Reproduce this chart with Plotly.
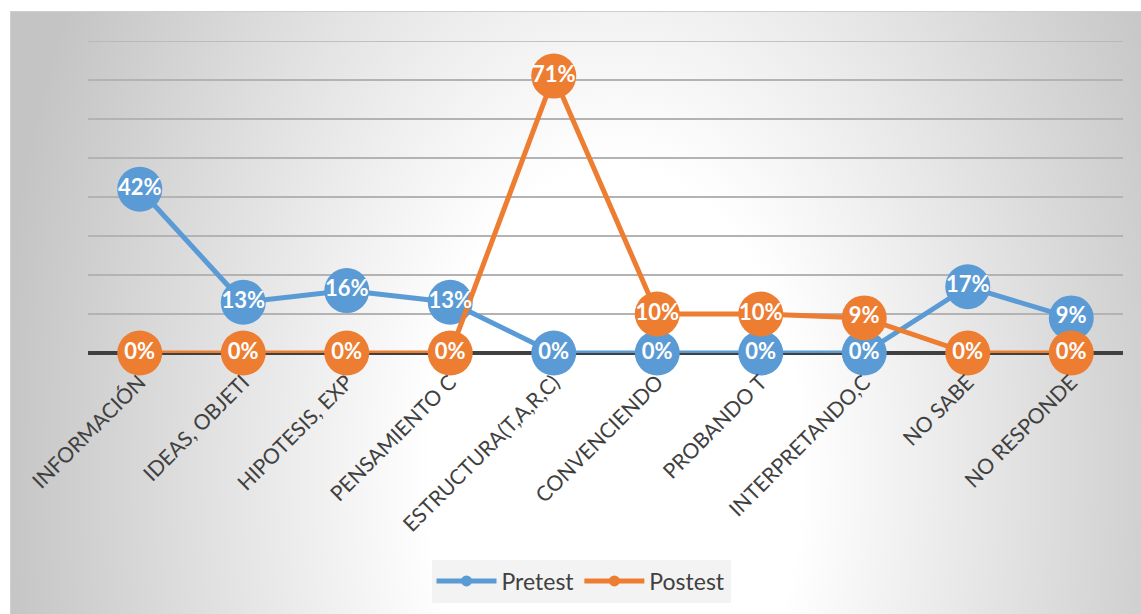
import base64
import plotly.graph_objects as go

# Categories and percentages for each test
categories = [
    "INFORMACIÓN", "IDEAS, OBJETI", "HIPOTESIS, EXP", "PENSAMIENTO C",
    "ESTRUCTURA(T,A,R,C)", "CONVENCIENDO", "PROBANDO T", "INTERPRETANDO,C",
    "NO SABE", "NO RESPONDE",
]
pretest = [0.42, 0.13, 0.16, 0.13, 0.00, 0.00, 0.00, 0.00, 0.17, 0.09]
postest = [0.00, 0.00, 0.00, 0.00, 0.71, 0.10, 0.10, 0.09, 0.00, 0.00]
y_ticks = [0.0, 0.1, 0.2, 0.3, 0.4, 0.5, 0.6, 0.7, 0.8]

BLUE = "#5b9bd5"
ORANGE = "#ed7d31"
TEXT = "#404040"
GRID = "#b3b3b3"
FONT = "Lato"

W, H = 1141, 614
ML, MR, MT, MB = 88, 18, 41, 261
PW, PH = W - ML - MR, H - MT - MB

# Chart-area background: soft radial gradient, light in the middle, grey at the edges
BX, BY = 10, 11
BW, BH = W - BX, H - BY
svg = f"""<svg xmlns='http://www.w3.org/2000/svg' width='{BW}' height='{BH}' viewBox='0 0 {BW} {BH}' preserveAspectRatio='none'>
<defs><radialGradient id='g' gradientUnits='userSpaceOnUse' cx='0' cy='0' r='1'
 gradientTransform='translate(605 459) scale(620 1000)'>
<stop offset='0' stop-color='#ffffff'/><stop offset='0.3' stop-color='#ffffff'/>
<stop offset='1' stop-color='#c4c4c4'/></radialGradient></defs>
<rect x='0' y='0' width='{BW}' height='{BH}' fill='url(#g)'/>
<line x1='0' y1='0.5' x2='{BW}' y2='0.5' stroke='#cfcfcf' stroke-width='1'/>
<line x1='0.5' y1='0' x2='0.5' y2='{BH}' stroke='#cfcfcf' stroke-width='1'/>
</svg>"""
bg_uri = "data:image/svg+xml;base64," + base64.b64encode(svg.encode()).decode()


def pct(vals):
    return [f"{round(v * 100)}%" for v in vals]


fig = go.Figure()

for name, vals, color in [("Pretest", pretest, BLUE), ("Postest", postest, ORANGE)]:
    fig.add_trace(go.Scatter(
        x=categories, y=vals, mode="lines+markers", name=name,
        line=dict(color=color, width=5),
        marker=dict(color=color, size=45, line=dict(width=0)),
        cliponaxis=False, showlegend=False, hoverinfo="skip",
    ))

# Value labels drawn on top of the markers
for vals in (pretest, postest):
    fig.add_trace(go.Scatter(
        x=categories, y=vals, mode="text", text=pct(vals),
        textposition="middle center",
        textfont=dict(family=FONT, size=22, color="white", weight="bold"),
        cliponaxis=False, showlegend=False, hoverinfo="skip",
    ))

# Legend entries with small markers
for name, color in [("Pretest", BLUE), ("Postest", ORANGE)]:
    fig.add_trace(go.Scatter(
        x=[None], y=[None], mode="lines+markers", name=name,
        line=dict(color=color, width=5),
        marker=dict(color=color, size=11),
    ))

fig.add_layout_image(dict(
    source=bg_uri, xref="paper", yref="paper",
    x=(BX - ML) / PW, y=1 + (MT - BY) / PH,
    sizex=BW / PW, sizey=BH / PH,
    xanchor="left", yanchor="top", sizing="stretch", layer="below",
))

# Top gridline sits on the edge of the plot area, so draw it explicitly
fig.add_shape(type="line", xref="paper", yref="y", x0=0, x1=1,
              y0=y_ticks[-1], y1=y_ticks[-1],
              line=dict(color=GRID, width=1.5), layer="below")

fig.update_layout(
    width=W, height=H,
    margin=dict(l=ML, r=MR, t=MT, b=MB, pad=0),
    paper_bgcolor="white", plot_bgcolor="rgba(0,0,0,0)",
    font=dict(family=FONT, color=TEXT),
    showlegend=True,
    legend=dict(
        orientation="h", x=(581 - ML) / PW, y=(MT + PH - 581) / PH,
        xanchor="center", yanchor="middle",
        bgcolor="#f3f3f3", font=dict(family=FONT, size=23, color=TEXT),
        itemwidth=60, tracegroupgap=0,
    ),
    xaxis=dict(
        type="category", range=[-0.5, len(categories) - 0.5],
        tickangle=-45, tickfont=dict(family=FONT, size=21, color=TEXT),
        showgrid=False, showline=False, ticks="", ticklabelstandoff=12,
        fixedrange=True,
    ),
    yaxis=dict(
        range=[0, 0.8], tickvals=y_ticks, showticklabels=False,
        showgrid=True, gridcolor=GRID, gridwidth=1.5,
        zeroline=True, zerolinecolor="#404040", zerolinewidth=4,
        showline=False, fixedrange=True,
    ),
)

fig.write_html("out.html")
